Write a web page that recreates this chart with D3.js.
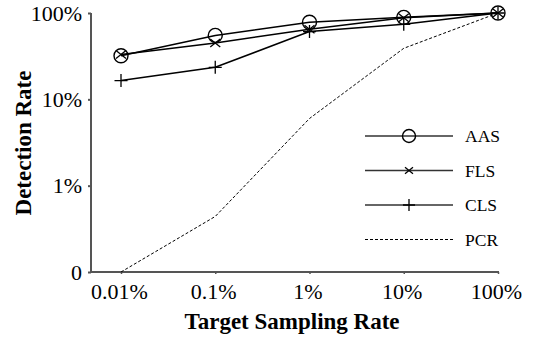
<!DOCTYPE html>
<html>
<head>
<meta charset="utf-8">
<script src="https://cdn.jsdelivr.net/npm/d3@7/dist/d3.min.js"></script>
<style>
  html, body { margin: 0; padding: 0; background: #fff; }
  svg { display: block; }
  text { font-family: "Liberation Serif", "Times New Roman", serif; fill: #000; }
</style>
</head>
<body>
<svg id="chart" width="539" height="339"></svg>
<script>
// Data (fractions)
const xValues = [0.0001, 0.001, 0.01, 0.1, 1];
const xTickLabels = ["0.01%", "0.1%", "1%", "10%", "100%"];
const yTickValues = [0.001, 0.01, 0.1, 1];
const yTickLabels = ["0", "1%", "10%", "100%"];
const seriesNames = ["AAS", "FLS", "CLS", "PCR"];
const aasValues = [0.32, 0.55, 0.78, 0.89, 1.0];
const flsValues = [0.33, 0.45, 0.65, 0.88, 1.0];
const clsValues = [0.165, 0.235, 0.61, 0.74, 1.0];
const pcrValues = [0, 0.0044, 0.060, 0.39, 1.0];

const svg = d3.select("#chart");
const yFloor = 0.001;

const x = d3.scaleLog().domain([0.0001, 1]).range([121, 498]);
const y = d3.scaleLog().domain([yFloor, 1]).range([272, 13]);
const axisLeftX = 91;
const axisRightX = 499;
const axisColor = "#555";

// X axis
const xAxis = d3.axisBottom(x).tickValues(xValues).tickFormat((d, i) => xTickLabels[i]).tickSize(2).tickSizeOuter(0);
const gx = svg.append("g").attr("transform", `translate(0,${y(yFloor)})`).call(xAxis);
gx.select(".domain").remove();
gx.selectAll(".tick line").attr("stroke", axisColor).attr("stroke-width", 1.5);
gx.selectAll(".tick text").attr("font-size", 22).attr("dy", 0).attr("y", 27).attr("x", -2);
gx.append("line").attr("x1", axisLeftX).attr("x2", axisRightX).attr("y1", 0).attr("y2", 0)
  .attr("stroke", axisColor).attr("stroke-width", 2);

// Y axis
const yAxis = d3.axisLeft(y).tickValues(yTickValues).tickFormat((d, i) => yTickLabels[i]).tickSize(3).tickSizeOuter(0);
const gy = svg.append("g").attr("transform", `translate(${axisLeftX},0)`).call(yAxis);
gy.select(".domain").remove();
gy.selectAll(".tick line").attr("stroke", axisColor).attr("stroke-width", 2);
gy.selectAll(".tick text").attr("font-size", 22).attr("x", -9).attr("dy", "0.33em");
gy.append("line").attr("x1", 0).attr("x2", 0).attr("y1", y(1)).attr("y2", y(yFloor))
  .attr("stroke", axisColor).attr("stroke-width", 2);

// Axis titles
svg.append("text").attr("x", 292).attr("y", 329).attr("text-anchor", "middle")
  .attr("font-size", 23).attr("font-weight", "bold").text("Target Sampling Rate");
svg.append("text").attr("transform", "translate(31,143) rotate(-90)").attr("text-anchor", "middle")
  .attr("font-size", 23).attr("font-weight", "bold").text("Detection Rate");

// Lines
const line = d3.line().x((d, i) => x(xValues[i])).y(d => y(Math.max(d, yFloor)));
const allSeries = [
  { name: "AAS", values: aasValues, marker: "circle", dash: null },
  { name: "FLS", values: flsValues, marker: "x", dash: null },
  { name: "CLS", values: clsValues, marker: "plus", dash: null },
  { name: "PCR", values: pcrValues, marker: null, dash: "3,2" }
];

function drawMarker(g, type, cx, cy, scale) {
  if (type === "circle") {
    g.append("circle").attr("cx", cx).attr("cy", cy).attr("r", 7 * scale)
      .attr("fill", "none").attr("stroke", "#000").attr("stroke-width", 1.4);
  } else if (type === "x") {
    const s = 5 * scale;
    g.append("path").attr("d", `M${cx - s},${cy - s * 0.8}L${cx + s},${cy + s * 0.8}M${cx - s},${cy + s * 0.8}L${cx + s},${cy - s * 0.8}`)
      .attr("stroke", "#000").attr("stroke-width", 1.3).attr("fill", "none");
  } else if (type === "plus") {
    const s = 6.5 * scale;
    g.append("path").attr("d", `M${cx - s},${cy}L${cx + s},${cy}M${cx},${cy - s}L${cx},${cy + s}`)
      .attr("stroke", "#000").attr("stroke-width", 1.3).attr("fill", "none");
  }
}

const plot = svg.append("g");
allSeries.forEach(s => {
  plot.append("path").datum(s.values).attr("d", line)
    .attr("fill", "none").attr("stroke", "#000")
    .attr("stroke-width", s.dash ? 1 : 1.5)
    .attr("stroke-dasharray", s.dash);
});
allSeries.forEach(s => {
  if (!s.marker) return;
  s.values.forEach((v, i) => drawMarker(plot, s.marker, x(xValues[i]), y(Math.max(v, yFloor)), 1));
});

// Legend
const legend = svg.append("g");
const legX1 = 365, legX2 = 453, legMid = 409, legTextX = 465;
const legY0 = 136, legStep = 34.5;
allSeries.forEach((s, i) => {
  const ly = legY0 + i * legStep;
  legend.append("line").attr("x1", legX1).attr("x2", legX2).attr("y1", ly).attr("y2", ly)
    .attr("stroke", s.dash ? "#000" : "#333").attr("stroke-width", s.dash ? 1 : 1.5)
    .attr("stroke-dasharray", s.dash);
  if (s.marker) drawMarker(legend, s.marker, legMid, ly, s.marker === "x" ? 0.8 : 0.93);
  legend.append("text").attr("x", legTextX).attr("y", ly).attr("dy", "0.35em")
    .attr("font-size", 17.5).text(s.name);
});
</script>
</body>
</html>
